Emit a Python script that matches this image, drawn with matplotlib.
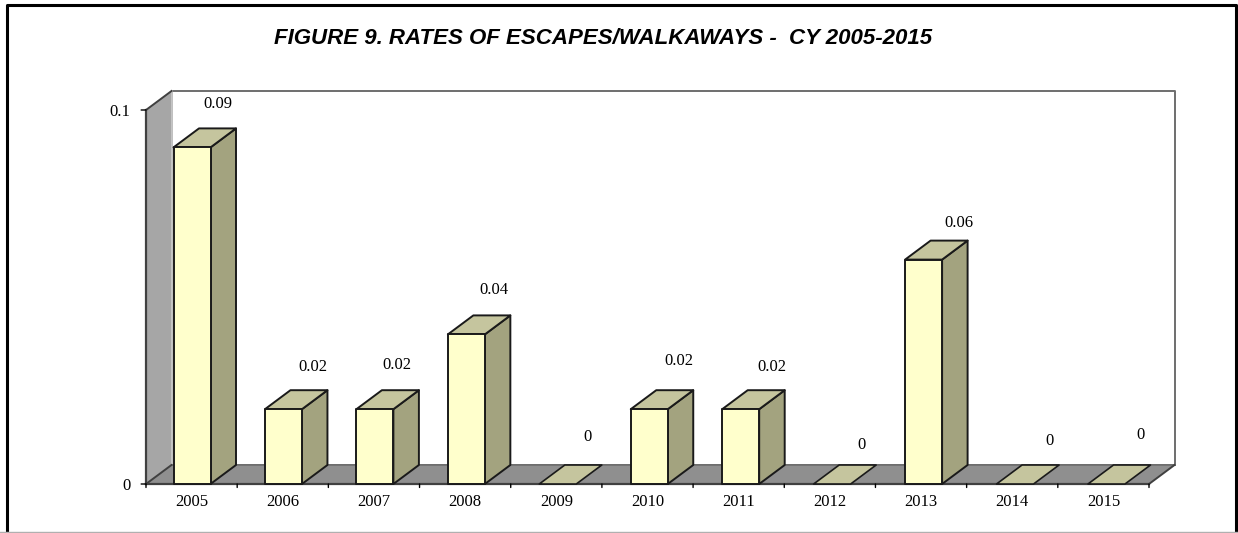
#!/usr/bin/env python3
# FIGURE 9 escapes/walkaways, excel style fake 3d columns
import matplotlib
matplotlib.use("Agg")
import matplotlib.pyplot as plt
from matplotlib.patches import Polygon
from matplotlib.lines import Line2D

years = ["2005", "2006", "2007", "2008", "2009", "2010", "2011", "2012", "2013", "2014", "2015"]
rates = [0.09, 0.02, 0.02, 0.04, 0, 0.02, 0.02, 0, 0.06, 0, 0]
rate_labels = ["0.09", "0.02", "0.02", "0.04", "0", "0.02", "0.02", "0", "0.06", "0", "0"]
y_ticks = [0, 0.1]
y_tick_labels = ["0", "0.1"]
title = "FIGURE 9. RATES OF ESCAPES/WALKAWAYS -  CY 2005-2015"

# the value labels sit irregularly in the original, offset in px from the bar top centre
label_dx = [26, 30, 23, 29, 31, 31, 33, 32, 38, 37, 37]
label_dy = [43, 42, 44, 44, 47, 48, 42, 39, 37, 43, 49]

W, H = 1238, 533
DPI = 100
SERIF = "Liberation Serif"
SANS = "Liberation Sans"

FRONT = "#ffffcc"
SIDE = "#a3a37f"
TOP = "#c5c59e"
WALL = "#a6a6a6"
FLOOR = "#8f8f8f"
EDGE = "#1a1a1a"

fig = plt.figure(figsize=(W / DPI, H / DPI), dpi=DPI)

# outer frame of the page
fig.add_artist(Line2D([6.5 / W, 6.5 / W, 1236 / W, 1236 / W], [1 - 533 / H, 1 - 4.5 / H, 1 - 4.5 / H, 1 - 533 / H],
                      color="black", lw=2.2))
fig.add_artist(Line2D([0 / W, 1238 / W], [1 - 532 / H, 1 - 532 / H], color="#b0b0b0", lw=1))

# front plane of the chart, everything else is offset from it
left, right, bottom, top = 146, 1149, 484, 110
ax = fig.add_axes([left / W, 1 - bottom / H, (right - left) / W, (bottom - top) / H])
ax.set_xlim(0, len(years))
ax.set_ylim(0, 0.1)
ax.axis("off")

# depth of the box in data units
slot_px = (right - left) / len(years)
dx = 25.5 / slot_px
dy = 19 / ((bottom - top) / 0.1)
n = len(years)
bar_w = 37 / slot_px
bar_start = 27.5 / slot_px
bar_step = 91.45 / slot_px


def poly(pts, fc, ec=EDGE, lw=1.4, z=2):
    ax.add_patch(Polygon(pts, closed=True, facecolor=fc, edgecolor=ec, lw=lw, zorder=z,
                         clip_on=False, joinstyle="round"))


# walls and floor
poly([(dx, dy), (n + dx, dy), (n + dx, 0.1 + dy), (dx, 0.1 + dy)], "white", ec="#6e6e6e", lw=1.4, z=1)
poly([(0, 0), (dx, dy), (dx, 0.1 + dy), (0, 0.1)], WALL, ec="none", z=1)
poly([(0, 0), (n, 0), (n + dx, dy), (dx, dy)], FLOOR, ec="none", z=1)
ax.add_line(Line2D([dx, dx], [dy, 0.1 + dy], color="#d0d0d0", lw=1.2, zorder=1, clip_on=False))
ax.add_line(Line2D([dx, n + dx], [dy, dy], color="#6e6e6e", lw=1.2, zorder=1, clip_on=False))
ax.add_line(Line2D([0, dx], [0.1, 0.1 + dy], color="#404040", lw=1.4, zorder=3, clip_on=False))
ax.add_line(Line2D([0, dx], [0, dy], color="#404040", lw=1.4, zorder=3, clip_on=False))
ax.add_line(Line2D([n, n + dx], [0, dy], color="#404040", lw=1.4, zorder=3, clip_on=False))
ax.add_line(Line2D([0, 0], [0, 0.1], color="#404040", lw=1.6, zorder=3, clip_on=False))
ax.add_line(Line2D([0, n], [0, 0], color="#404040", lw=1.6, zorder=3, clip_on=False))

# tick marks
for i in range(n + 1):
    ax.annotate("", (i, 0), xytext=(0, -2.5), textcoords="offset points",
                arrowprops=dict(arrowstyle="-", lw=1, color="black", shrinkA=0, shrinkB=0))
for v, lab in zip(y_ticks, y_tick_labels):
    ax.annotate("", (0, v), xytext=(-3.5, 0), textcoords="offset points",
                arrowprops=dict(arrowstyle="-", lw=1, color="black", shrinkA=0, shrinkB=0))
    ax.annotate(lab, (0, v), xytext=(-11, -1.5), textcoords="offset points", ha="right", va="center",
                family=SERIF, fontsize=12, color="black")

# bars
for i, (year, v, lab) in enumerate(zip(years, rates, rate_labels)):
    x0 = bar_start + i * bar_step
    x1 = x0 + bar_w
    if v > 0:
        poly([(x1, 0), (x1 + dx, dy), (x1 + dx, v + dy), (x1, v)], SIDE, z=4)
        poly([(x0, v), (x1, v), (x1 + dx, v + dy), (x0 + dx, v + dy)], TOP, z=4)
        poly([(x0, 0), (x1, 0), (x1, v), (x0, v)], FRONT, z=5)
    else:
        poly([(x0, 0), (x1, 0), (x1 + dx, dy), (x0 + dx, dy)], TOP, lw=1.2, z=4)
    ax.annotate(lab, (i + 0.5, v), xytext=(label_dx[i] * 72 / DPI, label_dy[i] * 72 / DPI),
                textcoords="offset points", ha="center", va="center", family=SERIF, fontsize=12, zorder=6)
    ax.annotate(year, (i + 0.5, 0), xytext=(0, -13), textcoords="offset points", ha="center", va="center",
                family=SERIF, fontsize=12)

fig.text(603.5 / W, 1 - 38 / H, title, ha="center", va="center", family=SANS, fontsize=16,
         fontweight="bold", fontstyle="italic")

fig.savefig("out.png", dpi=DPI)
